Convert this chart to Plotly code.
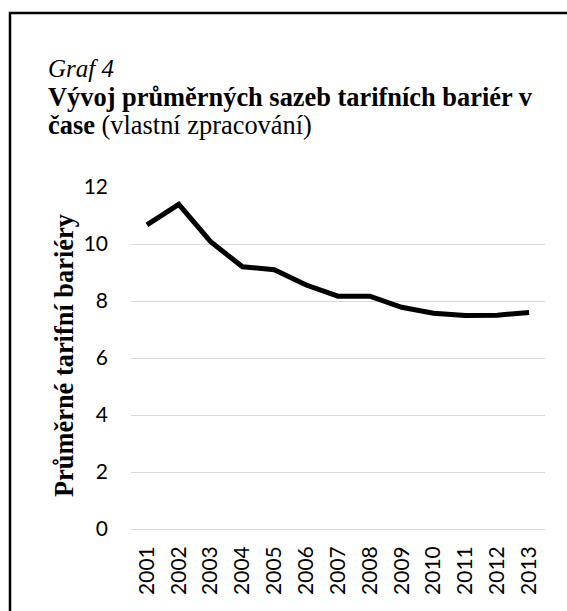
import plotly.graph_objects as go

years = ["2001", "2002", "2003", "2004", "2005", "2006", "2007",
         "2008", "2009", "2010", "2011", "2012", "2013"]
tariffs = [10.67, 11.39, 10.08, 9.2, 9.1, 8.56, 8.17, 8.17, 7.78, 7.57, 7.49, 7.5, 7.6]
y_ticks = [0, 2, 4, 6, 8, 10, 12]

W, H = 567, 611
L, R, T, B = 131, 545, 187, 529  # plot area in pixels


def px_x(p):
    return (p - L) / (R - L)


def px_y(p):
    return (B - p) / (B - T)


fig = go.Figure()
fig.add_trace(go.Scatter(x=years, y=tariffs, mode="lines",
                         line=dict(color="black", width=5),
                         hoverinfo="x+y", showlegend=False))

serif = "Liberation Serif, Times New Roman, serif"
sans = "Lato, Carlito, Calibri, sans-serif"

fig.update_layout(
    width=W, height=H,
    margin=dict(l=L, r=W - R, t=T, b=H - B),
    paper_bgcolor="white", plot_bgcolor="white",
    showlegend=False,
    xaxis=dict(type="category", range=[-0.5, len(years) - 0.5],
               showgrid=False, zeroline=False,
               showline=False, ticks="", tickangle=-90,
               tickfont=dict(family=sans, size=21, color="black"),
               ticklabelstandoff=12, fixedrange=True),
    yaxis=dict(range=[0, 12], tickvals=y_ticks, showgrid=True,
               gridcolor="#d9d9d9", gridwidth=1.3, zeroline=True,
               zerolinecolor="#d9d9d9", zerolinewidth=1.3,
               showline=False, ticks="",
               tickfont=dict(family=sans, size=21, color="black"),
               ticklabelstandoff=22, fixedrange=True),
    shapes=[dict(type="rect", xref="paper", yref="paper",
                 x0=px_x(10), x1=px_x(620), y0=px_y(660), y1=px_y(13),
                 line=dict(color="black", width=2.5),
                 fillcolor="rgba(0,0,0,0)", layer="above")],
    annotations=[
        dict(text="<i>Graf 4</i>", xref="paper", yref="paper",
             x=px_x(46), y=px_y(69), xanchor="left", yanchor="middle",
             showarrow=False, font=dict(family=serif, size=25, color="black")),
        dict(text="<b>Vývoj průměrných sazeb tarifních bariér v</b>",
             xref="paper", yref="paper",
             x=px_x(46), y=px_y(97), xanchor="left", yanchor="middle",
             showarrow=False, font=dict(family=serif, size=26.4, color="black")),
        dict(text="<b>čase</b> (vlastní zpracování)",
             xref="paper", yref="paper",
             x=px_x(46), y=px_y(125), xanchor="left", yanchor="middle",
             showarrow=False, font=dict(family=serif, size=26.4, color="black")),
        dict(text="<b>Průměrné tarifní bariéry</b>",
             xref="paper", yref="paper", textangle=-90,
             x=px_x(64), y=px_y(356), xanchor="center", yanchor="middle",
             showarrow=False, font=dict(family=serif, size=26.4, color="black")),
    ],
)

fig.write_html("out.html",
               config={"displayModeBar": False},
               post_script="document.body.style.margin='0';"
                           "document.body.style.overflow='hidden';")
